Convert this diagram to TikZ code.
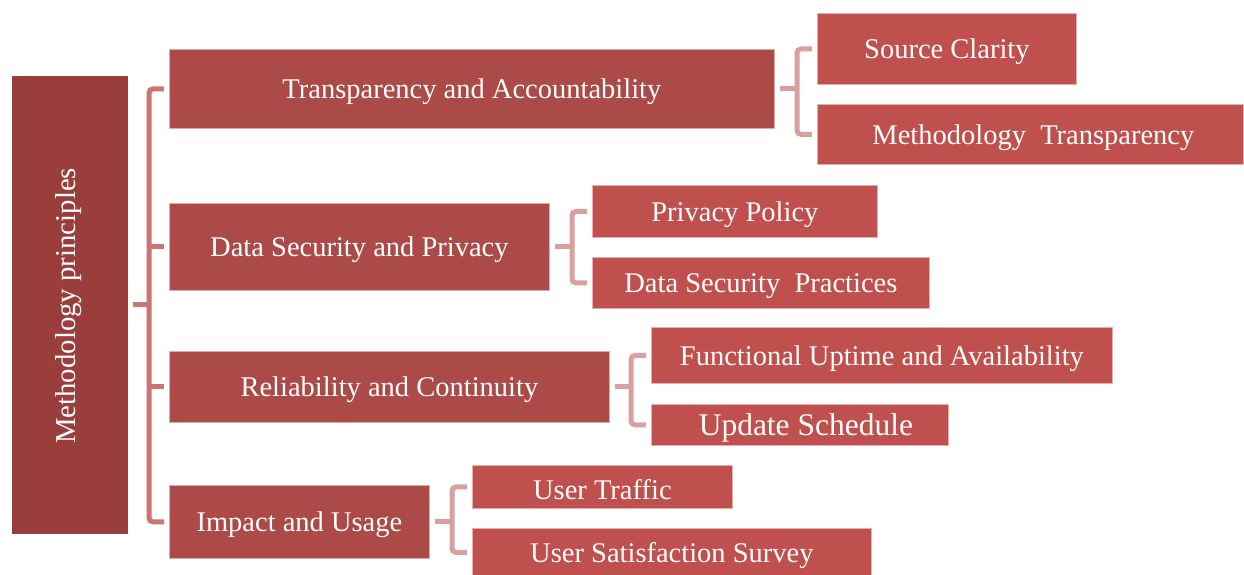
\documentclass[tikz,border=0pt]{standalone}
\usepackage{fontspec}
\setmainfont{Liberation Serif}
\usetikzlibrary{calc}
\definecolor{rootfill}{HTML}{9A3E3C}
\definecolor{midfill}{HTML}{AB4A47}
\definecolor{leaffill}{HTML}{C0504D}
\definecolor{rootline}{HTML}{CB7573}
\definecolor{midline}{HTML}{D9A09F}
% labels sit a little below the geometric centre of their boxes
\newcommand\lowtext[1]{\raisebox{-3pt}[\height][\depth]{#1}}
\tikzset{
  box/.style={anchor=north west, inner sep=0pt, text=white,
    font=\fontsize{28.5}{34}\selectfont, line width=0.8pt},
  rootbox/.style={box, fill=rootfill, draw=rootfill},
  midbox/.style={box, fill=midfill, draw=white!55!midfill},
  leafbox/.style={box, fill=leaffill, draw=white!55!leaffill},
  rootlink/.style={draw=rootline, line width=5pt, rounded corners=4pt},
  midlink/.style={draw=midline, line width=5pt, rounded corners=4pt},
}
\begin{document}
\begin{tikzpicture}[x=1pt, y=-1pt]
\useasboundingbox (0,0) rectangle (1244,575);

% root
\node[rootbox, minimum width=115pt, minimum height=457pt] (root) at (12,76) {};
\node[text=white, font=\fontsize{28.8}{34}\selectfont, rotate=90] (rootlabel) at ([xshift=-1pt,yshift=-1pt]root.center) {Methodology principles};

% first level
\node[midbox, minimum width=605pt, minimum height=79pt] (ta) at (169,49) {\lowtext{Transparency and Accountability}};
\node[midbox, minimum width=380pt, minimum height=87pt] (dsp) at (169,203) {\lowtext{Data Security and Privacy}};
\node[midbox, minimum width=440pt, minimum height=71pt] (rc) at (169,351) {\lowtext{Reliability and Continuity}};
\node[midbox, minimum width=260pt, minimum height=73pt] (iu) at (169,485) {\lowtext{Impact and Usage}};

% second level
\node[leafbox, minimum width=259pt, minimum height=71pt] (sc) at (817,13) {\lowtext{Source Clarity}};
\node[leafbox, minimum width=426pt, minimum height=60pt] (mt) at (817,104) {\lowtext{\hspace{6pt}Methodology\ \ Transparency}};
\node[leafbox, minimum width=285pt, minimum height=52pt] (pp) at (592,185) {\lowtext{Privacy Policy}};
\node[leafbox, minimum width=337pt, minimum height=51pt] (dp) at (592,257) {\lowtext{Data Security\ \ Practices}};
\node[leafbox, minimum width=461pt, minimum height=56pt] (fu) at (651,327) {\lowtext{Functional Uptime and Availability}};
\node[leafbox, minimum width=297pt, minimum height=41pt, font=\fontsize{31.5}{36}\selectfont] (us) at (651,404) {\lowtext{\hspace{12pt}Update Schedule}};
\node[leafbox, minimum width=260pt, minimum height=43pt] (ut) at (472,465) {\lowtext{User Traffic}};
\node[leafbox, minimum width=399pt, minimum height=48pt] (uss) at (472,528) {\lowtext{User Satisfaction Survey}};

% root bracket
\draw[rootlink] ([xshift=5pt]root.east) -- ([xshift=-20pt]ta.west |- root.east);
\draw[rootlink] ([xshift=-5pt]ta.west) -| ([xshift=-20pt]iu.west) -- ([xshift=-5pt]iu.west);
\draw[rootlink] ([xshift=-20pt]dsp.west) -- ([xshift=-5pt]dsp.west);
\draw[rootlink] ([xshift=-20pt]rc.west) -- ([xshift=-5pt]rc.west);

% second level brackets
\draw[midlink] ([xshift=5pt]ta.east) -- ([xshift=-20pt]sc.west |- ta.east);
\draw[midlink] ([xshift=-5pt]sc.west) -| ([xshift=-20pt]mt.west) -- ([xshift=-5pt]mt.west);

\draw[midlink] ([xshift=5pt]dsp.east) -- ([xshift=-20pt]pp.west |- dsp.east);
\draw[midlink] ([xshift=-5pt]pp.west) -| ([xshift=-20pt]dp.west) -- ([xshift=-5pt]dp.west);

\draw[midlink] ([xshift=5pt]rc.east) -- ([xshift=-20pt]fu.west |- rc.east);
\draw[midlink] ([xshift=-5pt]fu.west) -| ([xshift=-20pt]us.west) -- ([xshift=-5pt]us.west);

\draw[midlink] ([xshift=5pt]iu.east) -- ([xshift=-20pt]ut.west |- iu.east);
\draw[midlink] ([xshift=-5pt]ut.west) -| ([xshift=-20pt]uss.west) -- ([xshift=-5pt]uss.west);
\end{tikzpicture}
\end{document}
